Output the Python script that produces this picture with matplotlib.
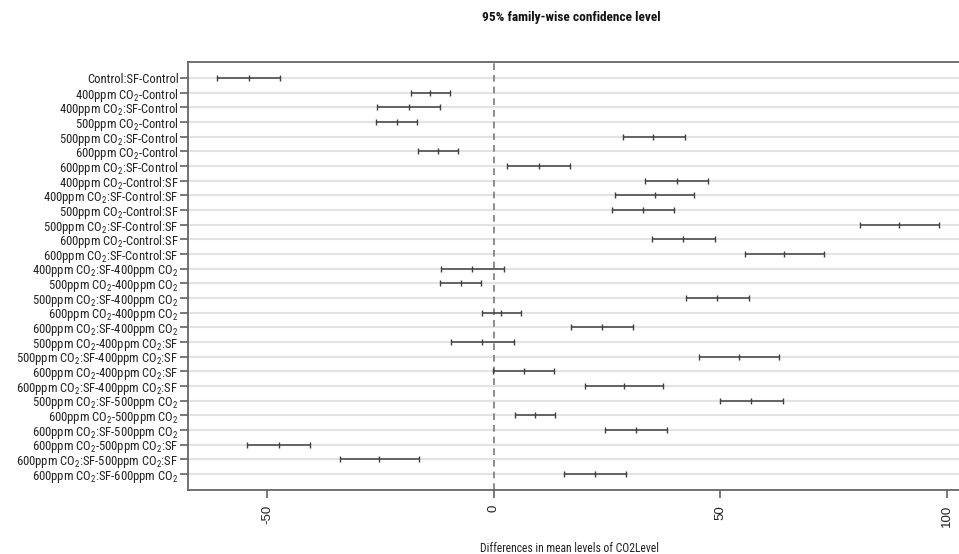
import matplotlib
matplotlib.use("Agg")
import matplotlib.pyplot as plt
from matplotlib import font_manager as fm
import numpy as np

_names = set(f.name for f in fm.fontManager.ttflist)
NARROW = next((f for f in ['Liberation Sans Narrow', 'Arial Narrow', 'Roboto Condensed',
                           'Archivo Narrow', 'Liberation Sans'] if f in _names), 'DejaVu Sans')
plt.rcParams['font.family'] = [NARROW, 'Liberation Sans', 'DejaVu Sans']
plt.rcParams['mathtext.fontset'] = 'custom'
plt.rcParams['mathtext.rm'] = NARROW
plt.rcParams['mathtext.it'] = NARROW + ':italic'
plt.rcParams['mathtext.bf'] = NARROW + ':bold'

C = "CO$_2$"
labels = [
    "Control:SF-Control",
    f"400ppm {C}-Control",
    f"400ppm {C}:SF-Control",
    f"500ppm {C}-Control",
    f"500ppm {C}:SF-Control",
    f"600ppm {C}-Control",
    f"600ppm {C}:SF-Control",
    f"400ppm {C}-Control:SF",
    f"400ppm {C}:SF-Control:SF",
    f"500ppm {C}-Control:SF",
    f"500ppm {C}:SF-Control:SF",
    f"600ppm {C}-Control:SF",
    f"600ppm {C}:SF-Control:SF",
    f"400ppm {C}:SF-400ppm {C}",
    f"500ppm {C}-400ppm {C}",
    f"500ppm {C}:SF-400ppm {C}",
    f"600ppm {C}-400ppm {C}",
    f"600ppm {C}:SF-400ppm {C}",
    f"500ppm {C}-400ppm {C}:SF",
    f"500ppm {C}:SF-400ppm {C}:SF",
    f"600ppm {C}-400ppm {C}:SF",
    f"600ppm {C}:SF-400ppm {C}:SF",
    f"500ppm {C}:SF-500ppm {C}",
    f"600ppm {C}-500ppm {C}",
    f"600ppm {C}:SF-500ppm {C}",
    f"600ppm {C}-500ppm {C}:SF",
    f"600ppm {C}:SF-500ppm {C}:SF",
    f"600ppm {C}:SF-600ppm {C}",
]

diff = [-54.1, -14.0, -18.7, -21.3, 35.2, -12.3, 9.9, 40.4, 35.5, 32.9,
        89.5, 41.8, 64.1, -4.7, -7.3, 49.3, 1.6, 23.9, -2.5, 54.2,
        6.6, 28.8, 56.8, 9.2, 31.3, -47.5, -25.3, 22.3]
lwr = [-61.1, -18.2, -25.7, -25.9, 28.5, -16.7, 3.0, 33.4, 26.8, 26.0,
       80.9, 34.9, 55.5, -11.7, -11.8, 42.5, -2.6, 17.1, -9.4, 45.4,
       -0.2, 20.1, 49.9, 4.7, 24.5, -54.4, -34.0, 15.4]
upr = [-47.1, -9.6, -11.8, -16.9, 42.2, -7.9, 16.8, 47.3, 44.2, 39.7,
       98.3, 48.8, 72.9, 2.2, -2.9, 56.3, 6.1, 30.8, 4.5, 63.0,
       13.4, 37.4, 63.8, 13.5, 38.3, -40.6, -16.5, 29.2]

xticks = [-50, 0, 50, 100]

W, H = 959, 554
fig = plt.figure(figsize=(W / 100, H / 100), dpi=100)
left, right, top, bottom = 188, 968, 62, 490
ax = fig.add_axes([left / W, 1 - bottom / H, (right - left) / W, (bottom - top) / H])

n = len(labels)
y = np.arange(n)

for yi in y:
    ax.axhline(yi, color='#e3e3e3', lw=1.5, zorder=0)
ax.axvline(0, color='#7a7a7a', lw=1.2, ls=(0, (4, 3)), zorder=1)

ax.hlines(y, lwr, upr, color='#404040', lw=1.1, zorder=3)
for arr in (lwr, diff, upr):
    ax.plot(arr, y, ls='none', marker='|', ms=4.5, mew=1.0, color='#404040', zorder=4)

xmin, xmax = min(lwr), max(upr)
ext = 0.04 * (xmax - xmin)
ax.set_xlim(xmin - ext, xmax + ext)
ax.set_ylim(n - 1 + 1.08, -1.08)

ax.set_yticks(y)
ax.set_yticklabels(labels, fontsize=9.1, color='#222222')
ax.set_xticks(xticks)
ax.set_xticklabels([str(t) for t in xticks], rotation=90, fontsize=9.5, color='#222222',
                   family=['Liberation Sans', 'DejaVu Sans'])
ax.tick_params(axis='y', length=5.8, width=1.1, color='#555555', pad=1.0)
ax.tick_params(axis='x', length=5.8, width=1.1, color='#555555', pad=5)

for s in ('left', 'bottom', 'top'):
    ax.spines[s].set_color('#666666')
    ax.spines[s].set_linewidth(1.3)
ax.spines['right'].set_visible(False)

fig.text(571 / W, 1 - 18 / H, "95% family-wise confidence level", ha='center', va='center',
         fontsize=9.6, fontweight='bold', color='#111111')
fig.text(570 / W, 1 - 548 / H, "Differences in mean levels of CO2Level", ha='center',
         va='center', fontsize=8.4, color='#222222')

fig.savefig("out.png", dpi=100)
